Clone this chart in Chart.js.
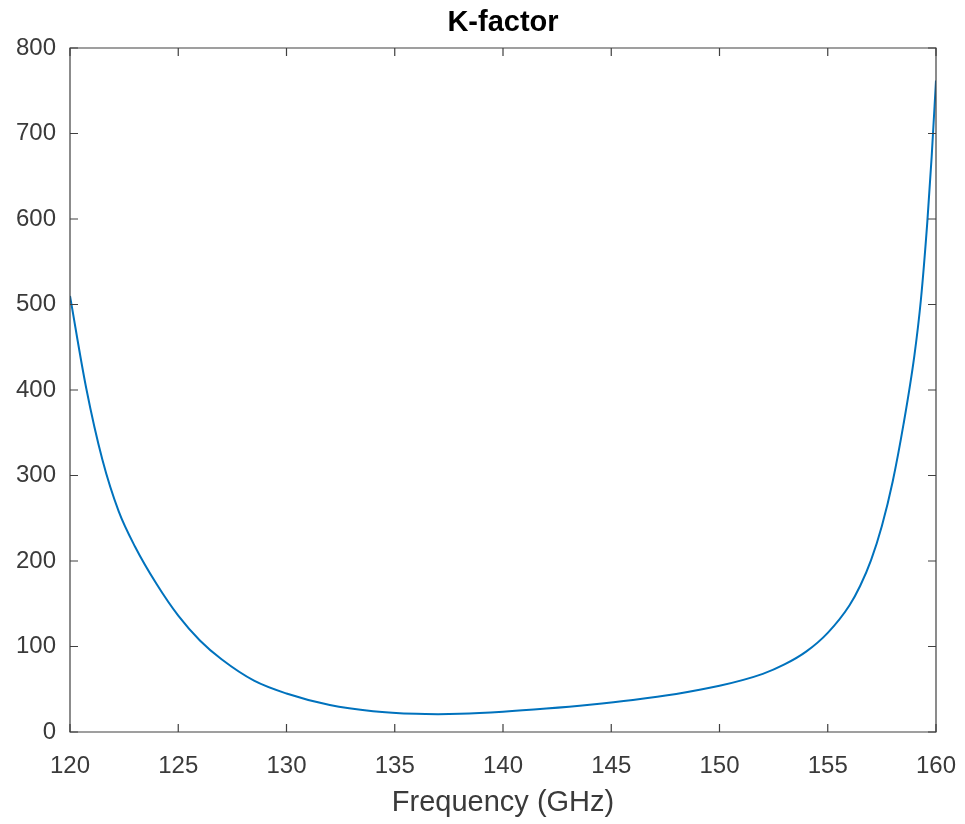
<!DOCTYPE html>
<html>
<head>
<meta charset="utf-8">
<title>K-factor</title>
<script src="https://cdn.jsdelivr.net/npm/chart.js@4.4.1/dist/chart.umd.min.js"></script>
<style>
  html, body { margin: 0; padding: 0; background: #ffffff; }
  #wrap { width: 965px; height: 824px; }
</style>
</head>
<body>
<div id="wrap"><canvas id="kChart" width="965" height="824"></canvas></div>
<script>
/* ------------------------------------------------------------------ */
/*  Data                                  */
/* ------------------------------------------------------------------ */

var FREQ_GHZ = [
  120, 120.75, 121.5, 122.25, 123, 124, 125, 126, 127, 128.5,
  130, 132, 134, 136, 137, 138, 140, 142, 144, 146,
  148, 150, 152, 153, 154, 155, 156, 156.5, 157, 157.5,
  158, 158.5, 159, 159.3, 159.6, 159.8, 160
];

var K_FACTOR = [
  510, 402, 318, 258, 217, 173, 136, 107, 85, 60,
  45, 31.5, 24.3, 21.2, 20.9, 21.3, 23.8, 27.5, 32, 37.5,
  44.5, 54, 68, 79, 94, 116, 148, 171, 201, 241,
  293, 360, 440, 505, 597, 673, 762
];

var X_TICKS = [120, 125, 130, 135, 140, 145, 150, 155, 160];
var Y_TICKS = [0, 100, 200, 300, 400, 500, 600, 700, 800];

var CHART_TITLE = 'K-factor';
var X_LABEL = 'Frequency (GHz)';

/* ------------------------------------------------------------------ */
/*  Styling                                                           */
/* ------------------------------------------------------------------ */

var FONT_FAMILY = '"Liberation Sans", Arial, Helvetica, sans-serif';
var AXIS_COLOR = '#404040';
var TEXT_COLOR = '#3a3a3a';
var LINE_COLOR = '#0072BD';
var TICK_LEN = 8;

/**
 * MATLAB-style box: full frame round the plot area with inward tick
 * marks on all four sides, placed through the chart's own scales.
 */
var boxPlugin = {
  id: 'matlabBox',
  afterDraw: function (chart) {
    var ctx = chart.ctx;
    var area = chart.chartArea;
    var xs = chart.scales.x;
    var ys = chart.scales.y;

    ctx.save();
    ctx.strokeStyle = AXIS_COLOR;
    ctx.lineWidth = 1.2;
    ctx.beginPath();
    ctx.rect(area.left, area.top, area.right - area.left, area.bottom - area.top);
    ctx.stroke();

    ctx.beginPath();
    xs.ticks.forEach(function (t) {
      var px = xs.getPixelForValue(t.value);
      ctx.moveTo(px, area.bottom);
      ctx.lineTo(px, area.bottom - TICK_LEN);
      ctx.moveTo(px, area.top);
      ctx.lineTo(px, area.top + TICK_LEN);
    });
    ys.ticks.forEach(function (t) {
      var py = ys.getPixelForValue(t.value);
      ctx.moveTo(area.left, py);
      ctx.lineTo(area.left + TICK_LEN, py);
      ctx.moveTo(area.right, py);
      ctx.lineTo(area.right - TICK_LEN, py);
    });
    ctx.stroke();
    ctx.restore();
  }
};

var points = FREQ_GHZ.map(function (f, i) {
  return { x: f, y: K_FACTOR[i] };
});

/** Drop the label-overflow padding so the plot box spans a fixed width. */
function noSidePadding(scale) {
  scale.paddingLeft = 0;
  scale.paddingRight = 0;
}

var config = {
  type: 'line',
  data: {
    datasets: [{
      label: CHART_TITLE,
      data: points,
      borderColor: LINE_COLOR,
      borderWidth: 2,
      pointRadius: 0,
      fill: false,
      cubicInterpolationMode: 'monotone'
    }]
  },
  options: {
    responsive: false,
    animation: false,
    layout: { padding: { left: 0, right: 29, top: 0, bottom: 0 } },
    scales: {
      x: {
        type: 'linear',
        min: 120,
        max: 160,
        afterBuildTicks: function (scale) {
          scale.ticks = X_TICKS.map(function (v) { return { value: v }; });
        },
        afterFit: function (scale) {
          scale.height = 92;
          noSidePadding(scale);
        },
        grid: { display: false, drawTicks: false },
        border: { display: false },
        ticks: {
          padding: 20,
          maxRotation: 0,
          autoSkip: false,
          color: TEXT_COLOR,
          font: { family: FONT_FAMILY, size: 24 }
        },
        title: {
          display: true,
          text: X_LABEL,
          color: TEXT_COLOR,
          padding: { top: 0, bottom: 4 },
          font: { family: FONT_FAMILY, size: 29 }
        }
      },
      // top axis only carries the title, so it centres over the plot box
      xTop: {
        type: 'linear',
        position: 'top',
        min: 120,
        max: 160,
        afterFit: function (scale) {
          scale.height = 48;
          noSidePadding(scale);
        },
        grid: { display: false, drawTicks: false },
        border: { display: false },
        ticks: { display: false },
        title: {
          display: true,
          text: CHART_TITLE,
          color: '#000000',
          padding: { top: 6, bottom: 0 },
          font: { family: FONT_FAMILY, size: 29, weight: 'bold' }
        }
      },
      y: {
        type: 'linear',
        min: 0,
        max: 800,
        afterBuildTicks: function (scale) {
          scale.ticks = Y_TICKS.map(function (v) { return { value: v }; });
        },
        afterFit: function (scale) { scale.width = 70; },
        grid: { display: false, drawTicks: false },
        border: { display: false },
        ticks: {
          padding: 14,
          autoSkip: false,
          color: TEXT_COLOR,
          font: { family: FONT_FAMILY, size: 24 }
        }
      }
    },
    plugins: {
      legend: { display: false },
      tooltip: { enabled: false },
      title: { display: false }
    }
  },
  plugins: [boxPlugin]
};

new Chart(document.getElementById('kChart').getContext('2d'), config);
</script>
</body>
</html>
